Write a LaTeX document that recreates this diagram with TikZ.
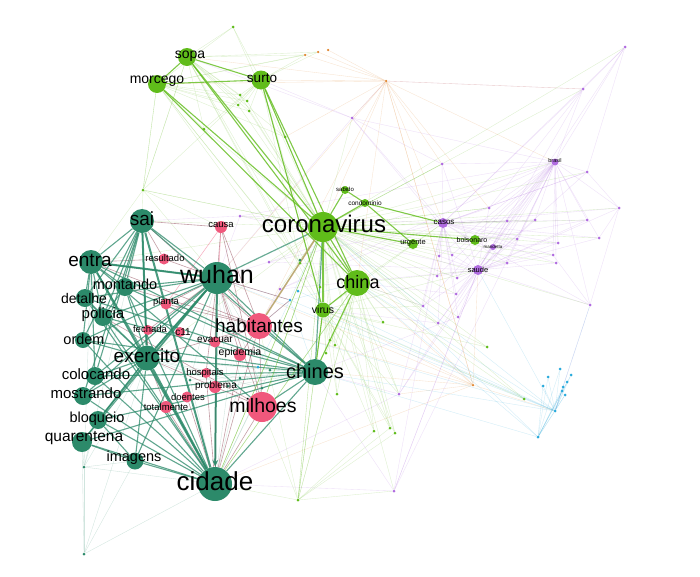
\documentclass[tikz,border=0pt]{standalone}
\usepackage{fontspec}
\setmainfont{Liberation Sans}
\usetikzlibrary{arrows.meta}
\definecolor{gG}{RGB}{96,188,26}
\definecolor{tG}{RGB}{44,138,106}
\definecolor{pK}{RGB}{240,88,124}
\definecolor{pU}{RGB}{176,108,224}
\definecolor{oR}{RGB}{224,130,40}
\definecolor{cY}{RGB}{40,170,220}
\definecolor{mR}{RGB}{150,80,95}
\definecolor{tN}{RGB}{190,160,110}
\pgfdeclarelayer{back}
\pgfdeclarelayer{bg}
\pgfsetlayers{back,bg,main}
\begin{document}
\begin{tikzpicture}[x=1pt,y=-1pt,
  gn/.style={circle,fill=gG,inner sep=0pt,minimum size=#1},
  tn/.style={circle,fill=tG,inner sep=0pt,minimum size=#1},
  kn/.style={circle,fill=pK,inner sep=0pt,minimum size=#1},
  un/.style={circle,fill=pU,inner sep=0pt,minimum size=#1},
  dotn/.style={circle,fill=#1,inner sep=0pt,minimum size=3pt},
  lb/.style={inner sep=0pt,text=black,font=\fontsize{#1}{#1}\selectfont},
  te/.style={draw=tG,line width=1.1pt,opacity=.75},
  tk/.style={draw=tG,line width=2pt,opacity=.85},
  ge/.style={draw=gG,line width=1.1pt,opacity=.8},
  pe/.style={draw=mR,line width=.6pt,opacity=.55},
  fe/.style={draw=#1,line width=.35pt,opacity=.22},
]
\useasboundingbox (0,0) rectangle (700,576);
\begin{pgfonlayer}{back}
\fill[white] (0,0) rectangle (700,576);
\end{pgfonlayer}

% ---------- big nodes ----------
\node[gn=18pt] (morcego) at (157,84) {};
\node[gn=18pt] (sopa) at (187,57) {};
\node[gn=19pt] (surto) at (261,80) {};
\node[gn=30pt] (coronavirus) at (323,227) {};
\node[gn=26pt] (china) at (357,283) {};
\node[gn=15pt] (virus) at (323,310) {};
\node[gn=8pt] (sabido) at (345,190) {};
\node[gn=8pt] (condominio) at (365,203) {};
\node[gn=10pt] (urgente) at (413,244) {};
\node[gn=10pt] (bolsonaro) at (475,240) {};
\node[un=10pt] (casos) at (443,223) {};
\node[un=10pt] (saude) at (478,270) {};
\node[un=7pt] (brasil) at (555,162) {};
\node[un=6pt] (mandetta) at (493,247) {};

\node[tn=24pt] (sai) at (142,221) {};
\node[tn=24pt] (entra) at (91,262) {};
\node[tn=32pt] (wuhan) at (217,278) {};
\node[tn=18pt] (montando) at (125,287) {};
\node[tn=18pt] (detalhe) at (85,298) {};
\node[tn=18pt] (policia) at (103,317) {};
\node[tn=16pt] (ordem) at (83,340) {};
\node[tn=25pt] (exercito) at (147,358) {};
\node[tn=18pt] (colocando) at (95,376) {};
\node[tn=18pt] (mostrando) at (83,396) {};
\node[tn=18pt] (bloqueio) at (98,420) {};
\node[tn=20pt] (quarentena) at (82,442) {};
\node[tn=17pt] (imagens) at (135,461) {};
\node[tn=34pt] (cidade) at (215,484) {};
\node[tn=26pt] (chines) at (315,372) {};

\node[kn=12pt] (causa) at (221,227) {};
\node[kn=11pt] (resultado) at (164,259) {};
\node[kn=11pt] (planta) at (166,304) {};
\node[kn=10pt] (fechada) at (148,330) {};
\node[kn=10pt] (c11) at (180,332) {};
\node[kn=26pt] (habitantes) at (259,326) {};
\node[kn=11pt] (evacuar) at (215,342) {};
\node[kn=12pt] (epidemia) at (240,355) {};
\node[kn=10pt] (hospitais) at (206,373) {};
\node[kn=12pt] (problema) at (215,387) {};
\node[kn=11pt] (doentes) at (187,397) {};
\node[kn=12pt] (totalmente) at (166,407) {};
\node[kn=30pt] (milhoes) at (262,407) {};

% ---------- small dots ----------
\foreach \n/\x/\y in {p1/352/118, p2/442/164, p3/587/172, p4/619/208, p5/489/208,
  p6/507/221, p7/535/220, p8/587/220, p9/599/238, p10/517/239, p11/558/243,
  p12/439/256, p13/452/255, p14/553/255, p15/507/263, p16/556/263, p17/457/278,
  p18/437/276, p19/583/89, p20/590/305, p21/423/306, p22/456/294, p23/458/317,
  p24/438/323, p25/399/394, p26/394/491, p27/625/47, p28/240/216, p29/280/289, p30/269/262}
  \node[dotn=pU] (\n) at (\x,\y) {};
\foreach \n/\x/\y in {o1/386/81, o2/473/385, o3/305/55, o4/318/52, o5/328/50}
  \node[dotn=oR,minimum size=2.5pt] (\n) at (\x,\y) {};
\foreach \n/\x/\y in {c1/555/411, c2/560/369, c3/571/375, c4/548/377, c5/543/386,
  c6/563/387, c7/567/382, c8/562/391, c9/565/395, c10/538/437, c11/290/300,
  c12/298/291, c13/258/367}
  \node[dotn=cY] (\n) at (\x,\y) {};
\foreach \n/\x/\y in {g1/240/95, g2/247/101, g3/238/105, g4/249/111, g5/204/129,
  g6/285/137, g7/143/190, g8/233/27, g9/298/500, g10/337/394, g11/383/322,
  g12/374/431, g13/390/428, g14/395/433, g15/487/347, g16/524/399, g17/320/287,
  g18/300/263, g19/330/340, g20/335/345, g21/326/353}
  \node[dotn=gG] (\n) at (\x,\y) {};
\foreach \n/\x/\y in {t1/84/467, t2/84/554, t3/270/370, t4/240/378, t5/262/388,
  t6/228/386, t7/300/260, t8/190/380}
  \node[dotn=tG] (\n) at (\x,\y) {};

% ---------- labels ----------
\node[lb=24] (l-coronavirus) at (324,224) {coronavirus};
\node[lb=25] (l-wuhan) at (217,275) {wuhan};
\node[lb=26] (l-cidade) at (215,481) {cidade};
\node[lb=19] (l-habitantes) at (259,326) {habitantes};
\node[lb=19.5] (l-milhoes) at (263,406) {milhoes};
\node[lb=20] (l-chines) at (315,371) {chines};
\node[lb=18] (l-china) at (358,282) {china};
\node[lb=19] (l-exercito) at (147,356) {exercito};
\node[lb=19] (l-entra) at (90,260) {entra};
\node[lb=19] (l-sai) at (142,219) {sai};
\node[lb=14.5] (l-montando) at (125,284) {montando};
\node[lb=14] (l-detalhe) at (84,298) {detalhe};
\node[lb=15] (l-policia) at (103,315) {policia};
\node[lb=14.5] (l-ordem) at (84,339) {ordem};
\node[lb=15] (l-colocando) at (96,374) {colocando};
\node[lb=15] (l-mostrando) at (86,393) {mostrando};
\node[lb=14.5] (l-bloqueio) at (97,419) {bloqueio};
\node[lb=15.5] (l-quarentena) at (84,438) {quarentena};
\node[lb=14.5] (l-imagens) at (134,458) {imagens};
\node[lb=14] (l-sopa) at (190,56) {sopa};
\node[lb=14] (l-morcego) at (157,81) {morcego};
\node[lb=13.5] (l-surto) at (262,78) {surto};
\node[lb=10.5] (l-virus) at (323,310) {virus};
\node[lb=9.5] (l-causa) at (221,225) {causa};
\node[lb=9.5] (l-resultado) at (165,258) {resultado};
\node[lb=9.5] (l-planta) at (166,302) {planta};
\node[lb=9.5] (l-fechada) at (150,329) {fechada};
\node[lb=10] (l-c11) at (183,332) {c11};
\node[lb=10] (l-evacuar) at (215,340) {evacuar};
\node[lb=10.5] (l-epidemia) at (240,353) {epidemia};
\node[lb=9.5] (l-hospitais) at (205,373) {hospitais};
\node[lb=10] (l-problema) at (216,386) {problema};
\node[lb=9.5] (l-doentes) at (188,397) {doentes};
\node[lb=9.5] (l-totalmente) at (166,407) {totalmente};
\node[lb=8] (l-casos) at (444,222) {casos};
\node[lb=7.5] (l-urgente) at (413,243) {urgente};
\node[lb=7] (l-bolsonaro) at (472,240) {bolsonaro};
\node[lb=7.5] (l-saude) at (478,270) {saude};
\node[lb=6] (l-sabido) at (345,189) {sabido};
\node[lb=6.5] (l-condominio) at (365,203) {condominio};
\node[lb=5.5] (l-brasil) at (555,161) {brasil};
\node[lb=4.5] (l-mandetta) at (493,247) {mandetta};

% ---------- edges ----------
\begin{pgfonlayer}{bg}
% faint web
\foreach \d in {p1,p2,p3,p4,p5,p6,p7,p8,p9,p10,p11,p12,p13,p14,p15,p16,p17,p18,p19,p20,p21,p22,p23,p24,p25,p26,p27,p28,p29,p30}{
  \draw[fe=pU] (\d) -- (brasil);
  \draw[fe=pU] (\d) -- (saude);
  \draw[fe=pU] (\d) -- (casos);
  \draw[fe=gG] (\d) -- (coronavirus);
}
\foreach \a/\b in {p27/p19, p27/p3, p19/o1, p1/o1, p1/sopa, p1/surto, p1/wuhan, p26/cidade,
  p26/chines, p26/saude, p25/chines, p25/cidade, p20/p4, p20/c1, p3/p4, p4/p9, p2/p1,
  p5/p19, p21/china, p22/china, p24/virus, p23/chines, p28/wuhan, p29/habitantes,
  p30/wuhan, p28/sai, p3/casos, p8/bolsonaro, p11/mandetta, p14/p20}
  \draw[fe=pU] (\a) -- (\b);
\foreach \d in {p2,p5,p19,brasil,sopa,surto,morcego,coronavirus,china,o2,o3,o4,o5,p1,casos,g6,wuhan,habitantes}
  \draw[fe=oR] (o1) -- (\d);
\foreach \d in {coronavirus,china,virus,habitantes,chines,cidade,p25,o1,saude,c1,wuhan}
  \draw[fe=oR] (o2) -- (\d);
\foreach \d in {c2,c3,c4,c5,c6,c7,c8,c9,c10,coronavirus,wuhan,habitantes,china,virus,chines,saude,p20,c11,c12}
  \draw[fe=cY] (c1) -- (\d);
\foreach \d in {c2,c3,c4,c5,c6,c7,c8,c9,coronavirus,china,chines}
  \draw[fe=cY] (c10) -- (\d);
\foreach \d in {wuhan,coronavirus,habitantes,china,chines,c13}
  \draw[fe=cY] (c11) -- (\d);
\foreach \d in {g1,g2,g3,g4,g5,g6,g7,g8,g17,g18,g19,g20,g21,g10,g11,g12,g13,g14,g15,g16,g9,t7,sai,entra,cidade,milhoes,exercito,brasil,p2,p5}
  \draw[fe=gG] (coronavirus) -- (\d);
\foreach \d in {g1,g2,g3,g4,g5,g6,g8,g7,o3,o4,virus,g17,g18}
  {\draw[fe=gG] (surto) -- (\d); \draw[fe=gG] (sopa) -- (\d); \draw[fe=gG] (morcego) -- (\d);}
\foreach \d in {g10,g11,g12,g13,g14,g15,g16,g9,g19,g20,g21,casos,saude,p21,p25}
  {\draw[fe=gG] (china) -- (\d); \draw[fe=gG] (virus) -- (\d);}
\foreach \d in {coronavirus,china,virus,chines,cidade,milhoes,g12,g13,g14,p26,habitantes}
  \draw[fe=gG] (g9) -- (\d);
\foreach \d in {sai,entra,wuhan,morcego,sopa,causa,coronavirus}
  \draw[fe=gG] (g7) -- (\d);
\foreach \d in {quarentena,cidade,entra,sai,bloqueio,imagens,t2,exercito}
  \draw[fe=tG] (t1) -- (\d);
\foreach \d in {cidade,quarentena,imagens,exercito}
  \draw[fe=tG] (t2) -- (\d);
\foreach \d in {t3,t4,t5,t6,t8}
  {\draw[fe=tG] (\d) -- (wuhan); \draw[fe=tG] (\d) -- (cidade); \draw[fe=tG] (\d) -- (chines); \draw[fe=tG] (\d) -- (exercito);}

% pink / mixed edges
\foreach \a/\b in {causa/wuhan, causa/habitantes, causa/sai, causa/milhoes, resultado/wuhan, resultado/sai,
  resultado/entra, planta/wuhan, planta/habitantes, fechada/wuhan, fechada/exercito, c11/wuhan,
  c11/habitantes, evacuar/wuhan, evacuar/habitantes, evacuar/cidade, epidemia/wuhan, epidemia/cidade,
  hospitais/cidade, hospitais/wuhan, problema/cidade, doentes/cidade, totalmente/cidade,
  totalmente/exercito, habitantes/milhoes, habitantes/cidade, milhoes/cidade, milhoes/wuhan,
  habitantes/wuhan, habitantes/exercito, milhoes/exercito, epidemia/habitantes, sai/habitantes,
  entra/habitantes, montando/habitantes, policia/milhoes}
  \draw[pe] (\a) -- (\b);
\draw[draw=pK,line width=.5pt,opacity=.5] (causa) -- (planta);
\draw[draw=pK,line width=.5pt,opacity=.5] (causa) -- (evacuar);

% teal edges
\foreach \a/\b in {sai/entra, sai/montando, sai/wuhan, sai/exercito, sai/policia, sai/detalhe,
  sai/ordem, sai/colocando, sai/chines, sai/mostrando, entra/wuhan, entra/exercito, entra/montando,
  entra/chines, entra/milhoes, entra/policia, entra/detalhe, entra/ordem, entra/colocando,
  wuhan/exercito, wuhan/chines, wuhan/montando, wuhan/policia, wuhan/detalhe, wuhan/ordem,
  wuhan/colocando, wuhan/mostrando, wuhan/bloqueio, wuhan/quarentena, wuhan/imagens,
  exercito/chines, exercito/colocando, exercito/mostrando, exercito/bloqueio, exercito/quarentena,
  exercito/ordem, exercito/policia, exercito/montando, exercito/detalhe, exercito/imagens,
  cidade/quarentena, cidade/imagens, cidade/bloqueio, cidade/mostrando, cidade/colocando,
  cidade/ordem, cidade/policia, cidade/detalhe, cidade/montando, chines/cidade, chines/milhoes,
  chines/montando, chines/colocando, chines/mostrando, chines/ordem, chines/policia, chines/detalhe,
  chines/bloqueio, chines/quarentena, chines/habitantes, quarentena/imagens, bloqueio/imagens,
  montando/policia, detalhe/policia}
  \draw[te] (\a) -- (\b);
\foreach \a/\b in {sai/cidade, entra/cidade, exercito/cidade, wuhan/entra, sai/exercito, wuhan/exercito}
  \draw[tk] (\a) -- (\b);
\draw[tk,-{Stealth[length=7pt,width=6pt]}] (wuhan) -- (cidade);
\draw[draw=tG,line width=1.2pt,opacity=.7] (wuhan) -- (coronavirus);
\draw[draw=tG,line width=1.2pt,opacity=.7] (chines) -- (coronavirus);

% green edges
\foreach \a/\b in {morcego/sopa, sopa/surto, morcego/surto, sopa/coronavirus, sopa/china,
  morcego/coronavirus, morcego/china, surto/coronavirus, surto/china, surto/virus,
  coronavirus/china, coronavirus/virus, coronavirus/sabido, coronavirus/condominio,
  sabido/condominio, condominio/urgente, condominio/casos, coronavirus/urgente,
  coronavirus/bolsonaro, china/chines, china/virus, virus/chines}
  \draw[ge] (\a) -- (\b);
\draw[draw=gG,line width=.6pt,opacity=.6] (coronavirus) -- (habitantes);
\draw[draw=tN,line width=1.6pt,opacity=.8] (habitantes) -- (coronavirus);
\draw[draw=gG,line width=.6pt,opacity=.5] (coronavirus) -- (milhoes);
\draw[draw=gG,line width=.6pt,opacity=.5] (china) -- (cidade);
\draw[draw=gG,line width=.6pt,opacity=.5] (coronavirus) -- (cidade);
\end{pgfonlayer}
\end{tikzpicture}
\end{document}
